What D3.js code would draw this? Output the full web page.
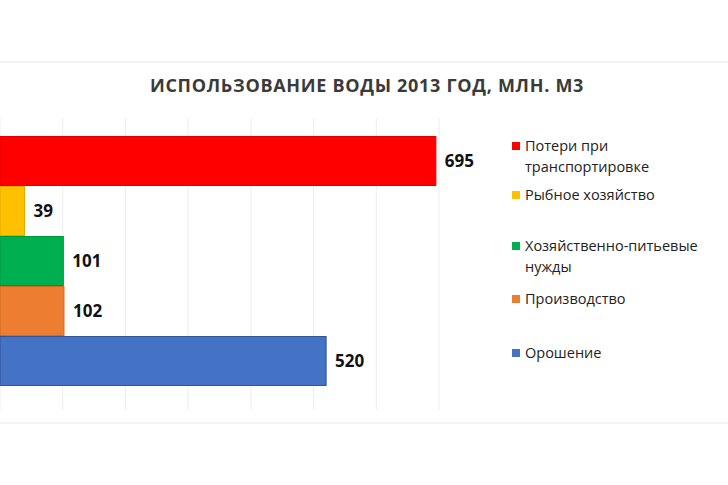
<!DOCTYPE html>
<html><head><meta charset="utf-8"><script src="https://cdn.jsdelivr.net/npm/d3@7"></script>
<style>body{margin:0;background:#fff}</style></head><body><svg id="c" width="728" height="485"></svg>
<script>
const categories=["Потери при транспортировке","Рыбное хозяйство","Хозяйственно-питьевые нужды","Производство","Орошение"];
const values=[695,39,101,102,520];
const colors=["#ff0000","#ffc000","#00b050","#ed7d31","#4472c4"];
const strokes=["#e00000","#e0a800","#009640","#d06a20","#2f5597"];
const legendLines=[["Потери при","транспортировке"],["Рыбное хозяйство"],["Хозяйственно-питьевые","нужды"],["Производство"],["Орошение"]];
const ticks=[0,100,200,300,400,500,600,700];
const svg=d3.select("#c");
const x=d3.scaleLinear().domain([0,700]).range([0,439]);
const y=d3.scaleBand().domain(categories).range([136,386]).padding(0);
svg.append("line").attr("x1",0).attr("x2",728).attr("y1",62).attr("y2",62).attr("stroke","#e6e6e6");
svg.append("line").attr("x1",0).attr("x2",728).attr("y1",423).attr("y2",423).attr("stroke","#e6e6e6");
svg.append("text").attr("x",367).attr("y",92).attr("text-anchor","middle").attr("font-family","Open Sans, sans-serif").attr("font-weight","bold").attr("font-size",18).attr("fill","#3a3a3a").attr("letter-spacing",0.7).text("ИСПОЛЬЗОВАНИЕ ВОДЫ 2013 ГОД, МЛН. М3");
svg.selectAll(".g").data(ticks).join("line").attr("x1",d=>x(d)).attr("x2",d=>x(d)).attr("y1",118).attr("y2",410).attr("stroke","#ececec");
svg.selectAll(".b").data(values).join("rect").attr("x",0).attr("y",(d,i)=>y(categories[i])+0.5).attr("width",d=>x(d)).attr("height",y.bandwidth()-1)
 .attr("fill",(d,i)=>colors[i]).attr("stroke",(d,i)=>strokes[i]).attr("stroke-width",1);
svg.selectAll(".l").data(values).join("text").attr("x",d=>x(d)+9).attr("y",(d,i)=>y(categories[i])+y.bandwidth()/2+6)
 .attr("font-family","Open Sans, sans-serif").attr("font-weight","bold").attr("font-size",17).attr("fill","#111").text(d=>d);
const ly=[147,196,247,300,354];
legendLines.forEach((ls,i)=>{
 svg.append("rect").attr("x",512).attr("y",ly[i]-5).attr("width",8).attr("height",8).attr("fill",colors[i]);
 ls.forEach((t,j)=>svg.append("text").attr("x",525).attr("y",ly[i]+4+j*21).attr("font-family","Open Sans, sans-serif").attr("font-size",14.5).attr("fill","#222").text(t));
});
</script></body></html>
